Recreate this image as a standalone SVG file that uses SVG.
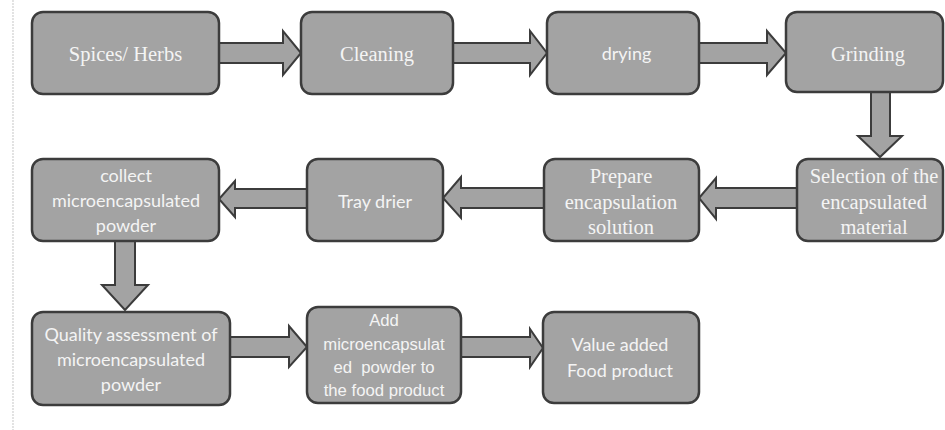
<svg xmlns="http://www.w3.org/2000/svg" width="945" height="430" viewBox="0 0 945 430">
<style>
.box{fill:#a3a3a3;stroke:#3c3c3c;stroke-width:2.5}
.arr{fill:#a3a3a3;stroke:#3c3c3c;stroke-width:2;stroke-linejoin:miter}
.serif{font-family:"Liberation Serif","Times New Roman",serif;font-size:20.5px;fill:#f4f4f4;text-anchor:middle}
.sans{font-family:Lato,"Noto Sans",sans-serif;font-size:18px;fill:#f4f4f4;text-anchor:middle}
.arial{font-family:"Liberation Sans",Arial,sans-serif;font-size:16.7px;fill:#f4f4f4;text-anchor:middle;white-space:pre}
</style>
<rect width="945" height="430" fill="#ffffff"/>
<line x1="13" y1="0" x2="13" y2="430" stroke="#d0d0d0" stroke-width="1.2" stroke-dasharray="2 1"/>
<g id="connectors">
<polygon class="arr" points="215,43 283,43 283,31 301,53 283,75 283,63 215,63"/>
<polygon class="arr" points="449,43 530,43 530,31 547,53 530,75 530,63 449,63"/>
<polygon class="arr" points="695,43 767,43 767,31 786,53 767,75 767,63 695,63"/>
<polygon class="arr" points="871,90 890,90 890,136 902,136 880,157 858,136 871,136"/>
<polygon class="arr" points="801,188 716,188 716,178 699,198 716,219 716,208 801,208"/>
<polygon class="arr" points="548,188 461,188 461,177 443,198 461,218 461,208 548,208"/>
<polygon class="arr" points="311,189 235,189 235,181 219,199 235,217 235,208 311,208"/>
<polygon class="arr" points="115,237 135,237 135,285 148,285 125,310 102,285 115,285"/>
<polygon class="arr" points="226,337 289,337 289,326 307,347 289,367 289,357 226,357"/>
<polygon class="arr" points="457,337 530,337 530,329 543,348 530,367 530,357 457,357"/>
</g>
<g id="n1"><rect class="box" x="32" y="12" width="187" height="82" rx="11"/><text class="serif" x="125.5" y="61" font-size="21">Spices/ Herbs</text></g>
<g id="n2"><rect class="box" x="301" y="12" width="152" height="82" rx="11"/><text class="serif" x="377" y="61">Cleaning</text></g>
<g id="n3"><rect class="box" x="547" y="12" width="152" height="82" rx="11"/><text class="sans" x="626.5" y="60">drying</text></g>
<g id="n4"><rect class="box" x="786" y="12" width="157" height="80" rx="11"/><text class="serif" x="868" y="61">Grinding</text></g>
<g id="n5"><rect class="box" x="797" y="159" width="146" height="82" rx="11"/><text class="serif" x="874" y="183" font-size="19">Selection of the</text><text class="serif" x="874" y="208.5">encapsulated</text><text class="serif" x="874" y="234">material</text></g>
<g id="n6"><rect class="box" x="544" y="159" width="155" height="82" rx="11"/><text class="serif" x="621" y="183">Prepare</text><text class="serif" x="621" y="208.5">encapsulation</text><text class="serif" x="621" y="234">solution</text></g>
<g id="n7"><rect class="box" x="307" y="159" width="136" height="82" rx="11"/><text class="sans" x="375" y="208">Tray drier</text></g>
<g id="n8"><rect class="box" x="32" y="159" width="187" height="82" rx="11"/><text class="sans" x="126" y="182">collect</text><text class="sans" x="126" y="207">microencapsulated</text><text class="sans" x="126" y="232">powder</text></g>
<g id="n9"><rect class="box" x="32" y="312" width="198" height="93" rx="11"/><text class="sans" x="131" y="341">Quality assessment of</text><text class="sans" x="131" y="366">microencapsulated</text><text class="sans" x="131" y="391">powder</text></g>
<g id="n10"><rect class="box" x="307" y="307" width="154" height="96" rx="11"/><text class="arial" x="384" y="326">Add</text><text class="arial" x="384" y="350">microencapsulat</text><text class="arial" x="384" y="373">ed  powder to</text><text class="arial" x="384" y="396">the food product</text></g>
<g id="n11"><rect class="box" x="543" y="312" width="156" height="91" rx="11"/><text class="sans" x="620" y="351">Value added</text><text class="sans" x="620" y="377">Food product</text></g>
</svg>
